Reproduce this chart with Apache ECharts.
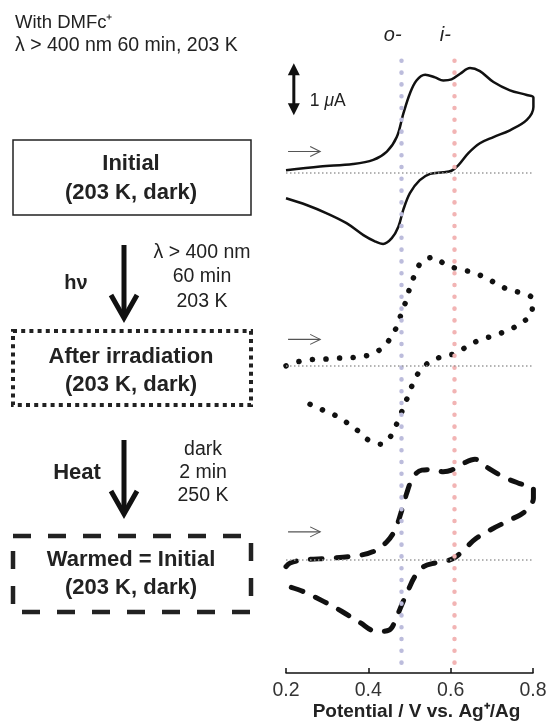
<!DOCTYPE html>
<html>
<head>
<meta charset="utf-8">
<script src="https://cdn.jsdelivr.net/npm/echarts@6/dist/echarts.min.js"></script>
<style>
	html, body { margin: 0; padding: 0; background: #fff; }
	#main { width: 548px; height: 722px; }
</style>
</head>
<body>
<div id="main"></div>
<script>
	// potential (V vs Ag+/Ag) and current (uA, relative to each baseline)
	const initialPotential = [0.200, 0.283, 0.363, 0.412, 0.445, 0.469, 0.485, 0.501, 0.517, 0.538, 0.562, 0.582, 0.602, 0.623, 0.647, 0.671, 0.704, 0.744, 0.785, 0.801,
		0.801, 0.785, 0.744, 0.704, 0.671, 0.643, 0.619, 0.602, 0.582, 0.550, 0.525, 0.501, 0.485, 0.473, 0.457, 0.436, 0.416, 0.388, 0.347, 0.299, 0.250, 0.200]
	const initialCurrent = [0.04, 0.11, 0.16, 0.24, 0.40, 0.68, 1.13, 1.52, 1.77, 1.88, 1.83, 1.77, 1.79, 1.90, 2.01, 1.95, 1.74, 1.58, 1.49, 1.44,
		1.26, 1.01, 0.81, 0.68, 0.56, 0.37, 0.14, 0.03, 0.00, -0.03, -0.15, -0.40, -0.72, -1.05, -1.27, -1.38, -1.33, -1.21, -0.98, -0.79, -0.63, -0.50]

	const irradPotential = [0.200, 0.230, 0.262, 0.297, 0.330, 0.363, 0.398, 0.428, 0.450, 0.467, 0.479, 0.491, 0.501, 0.513, 0.530, 0.558, 0.586, 0.617, 0.649, 0.679, 0.710, 0.740, 0.773, 0.799,
		0.797, 0.773, 0.740, 0.704, 0.671, 0.641, 0.612, 0.580, 0.550, 0.525, 0.509, 0.496, 0.483, 0.470, 0.455, 0.432, 0.402, 0.376, 0.347, 0.321, 0.289, 0.258, 0.228]
	const irradCurrent = [0.00, 0.08, 0.12, 0.13, 0.15, 0.16, 0.20, 0.31, 0.49, 0.72, 0.98, 1.24, 1.51, 1.76, 2.01, 2.09, 1.96, 1.87, 1.81, 1.72, 1.59, 1.47, 1.40, 1.29,
		1.03, 0.83, 0.69, 0.58, 0.50, 0.38, 0.24, 0.18, 0.08, -0.10, -0.33, -0.59, -0.85, -1.10, -1.35, -1.51, -1.44, -1.26, -1.09, -0.96, -0.85, -0.74, -0.65]

	const warmedPotential = [0.200, 0.210, 0.242, 0.303, 0.372, 0.412, 0.445, 0.465, 0.479, 0.493, 0.509, 0.530, 0.558, 0.582, 0.602, 0.631, 0.659, 0.687, 0.728, 0.768, 0.801,
		0.801, 0.780, 0.744, 0.704, 0.663, 0.631, 0.611, 0.586, 0.562, 0.534, 0.513, 0.497, 0.483, 0.469, 0.451, 0.420, 0.380, 0.335, 0.291, 0.242, 0.200]
	const warmedCurrent = [-0.13, -0.06, 0.00, 0.03, 0.08, 0.16, 0.35, 0.58, 0.90, 1.28, 1.60, 1.73, 1.74, 1.70, 1.73, 1.86, 1.94, 1.79, 1.60, 1.47, 1.38,
		1.19, 0.93, 0.77, 0.61, 0.42, 0.19, 0.05, -0.03, -0.06, -0.13, -0.32, -0.58, -0.83, -1.09, -1.35, -1.38, -1.21, -0.99, -0.80, -0.61, -0.50]

	const xTicks = [0.2, 0.4, 0.6, 0.8]
	const peakPotentials = [0.481, 0.609] // o-, i-
	const peakNames = ['o-', 'i-']

	// layout: vertical offset of each voltammogram (uA on the hidden axis)
	const offsets = [9.65, 5.92, 2.18]
	const arrowLevels = [0.40, 0.51, 0.54]
	const fontName = '"Liberation Sans", Arial, sans-serif'

	const pairs = (xs, ys, off) => xs.map((x, i) => [x, ys[i] + off])

	const baseLine = (off) => ({
		silent: true,
		symbol: 'none',
		label: { show: false },
		lineStyle: { color: '#9a9a9a', type: [1.5, 2.5], width: 1.5 },
		data: [{ yAxis: off }]
	})

	const myChart = echarts.init(document.getElementById('main'))

	const option = {
		animation: false,
		grid: { left: 286, right: 15, top: 40, bottom: 49, outerBoundsMode: 'none', containLabel: false },
		xAxis: {
			type: 'value',
			min: 0.2,
			max: 0.8,
			interval: 0.2,
			axisLine: { lineStyle: { color: '#111', width: 1.5 } },
			axisTick: { inside: true, length: 5, lineStyle: { color: '#111', width: 1.5 } },
			axisLabel: {
				fontSize: 19.5, color: '#333', fontFamily: fontName, margin: 8,
				formatter: v => xTicks.includes(+v.toFixed(1)) ? v.toFixed(1) : ''
			},
			splitLine: { show: false },
			name: 'Potential / V vs. Ag\u207A/Ag',
			nameLocation: 'middle',
			nameGap: 29,
			nameMoveOverlap: false,
			nameTextStyle: { fontWeight: 'bold', fontSize: 19, color: '#222', fontFamily: fontName, padding: [0, 0, 0, 14] }
		},
		yAxis: { type: 'value', min: 0, max: 12.2, show: false },
		series: [{
			name: 'guides',
			type: 'line',
			data: [],
			z: 1,
			markLine: {
				silent: true,
				symbol: 'none',
				label: { show: false },
				data: peakPotentials.map((p, i) => [
					{ coord: [p, 11.8], lineStyle: { color: i == 0 ? '#bcbcdc' : '#f2b4b4', width: 4.5, type: [0.1, 11.7], cap: 'round' } },
					{ coord: [p, 0] }
				])
			}
		}, {
			name: 'Initial',
			type: 'line',
			smooth: 0.35,
			symbol: 'none',
			clip: false,
			z: 3,
			lineStyle: { color: '#111', width: 2.5 },
			data: pairs(initialPotential, initialCurrent, offsets[0]),
			markLine: baseLine(offsets[0])
		}, {
			name: 'After irradiation',
			type: 'line',
			smooth: 0.35,
			symbol: 'none',
			clip: false,
			z: 3,
			lineStyle: { color: '#111', width: 5.5, type: [0.1, 13.5], cap: 'round' },
			data: pairs(irradPotential, irradCurrent, offsets[1]),
			markLine: baseLine(offsets[1])
		}, {
			name: 'Warmed',
			type: 'line',
			smooth: 0.35,
			symbol: 'none',
			clip: false,
			z: 3,
			lineStyle: { color: '#111', width: 5, type: [12, 14], cap: 'round' },
			data: pairs(warmedPotential, warmedCurrent, offsets[2]),
			markLine: baseLine(offsets[2])
		}]
	}

	myChart.setOption(option)

	const toPx = (e, v) => myChart.convertToPixel({ xAxisIndex: 0, yAxisIndex: 0 }, [e, v])

	const txt = (text, x, y, size, bold, extra) => ({
		type: 'text',
		z: 10,
		style: Object.assign({
			text: text, x: x, y: y,
			font: (bold ? 'bold ' : '') + size + 'px ' + fontName,
			fill: '#222',
			textAlign: 'center',
			textVerticalAlign: 'middle'
		}, extra || {})
	})

	const graphics = []

	// heading
	graphics.push(txt('With DMFc\u207A', 15, 23, 18.5, false, { textAlign: 'left' }))
	graphics.push(txt('\u03BB > 400 nm 60 min, 203 K', 15, 46, 19.5, false, { textAlign: 'left' }))

	// boxes
	graphics.push({ type: 'rect', shape: { x: 13, y: 140, width: 238, height: 75 }, style: { fill: 'none', stroke: '#222', lineWidth: 1.5 } })
	graphics.push({ type: 'rect', shape: { x: 13, y: 331, width: 238, height: 74 }, style: { fill: 'none', stroke: '#222', lineWidth: 4, lineDash: [4, 4.2] } })
	graphics.push({ type: 'rect', shape: { x: 13, y: 536, width: 238, height: 76 }, style: { fill: 'none', stroke: '#222', lineWidth: 4.5, lineDash: [18, 17] } })

	graphics.push(txt('Initial', 131, 164, 22, true))
	graphics.push(txt('(203 K, dark)', 131, 193, 22, true))
	graphics.push(txt('After irradiation', 131, 357, 22, true))
	graphics.push(txt('(203 K, dark)', 131, 385, 22, true))
	graphics.push(txt('Warmed = Initial', 131, 560, 22, true))
	graphics.push(txt('(203 K, dark)', 131, 588, 22, true))

	// process arrows
	const bigArrow = (y0, y1) => {
		graphics.push({ type: 'line', shape: { x1: 124, y1: y0, x2: 124, y2: y1 - 3 }, style: { stroke: '#111', lineWidth: 5 } })
		graphics.push({ type: 'polyline', shape: { points: [[111, y1 - 23], [124, y1], [137, y1 - 23]] }, style: { stroke: '#111', lineWidth: 5, fill: 'none', lineJoin: 'miter' } })
	}
	bigArrow(245, 318)
	bigArrow(440, 514)

	graphics.push(txt('h\u03BD', 76, 283, 20, true))
	graphics.push(txt('\u03BB > 400 nm', 202, 253, 19.5, false))
	graphics.push(txt('60 min', 202, 277, 19.5, false))
	graphics.push(txt('203 K', 202, 302, 19.5, false))
	graphics.push(txt('Heat', 77, 473, 22, true))
	graphics.push(txt('dark', 203, 450, 19.5, false))
	graphics.push(txt('2 min', 203, 473, 19.5, false))
	graphics.push(txt('250 K', 203, 496, 19.5, false))

	// o- / i- labels
	peakPotentials.forEach((p, i) => {
		const pt = toPx(p, 0)
		graphics.push(txt(peakNames[i], pt[0] - 9, 35, 20, false, { font: 'italic 20px ' + fontName }))
	})

	// forward scan arrows
	offsets.forEach((off, i) => {
		const a = toPx(0.205, off + arrowLevels[i])
		const b = toPx(0.283, off + arrowLevels[i])
		graphics.push({ type: 'line', shape: { x1: a[0], y1: a[1], x2: b[0], y2: b[1] }, style: { stroke: '#555', lineWidth: 1.1 } })
		graphics.push({ type: 'polyline', shape: { points: [[b[0] - 10, b[1] - 5], [b[0], b[1]], [b[0] - 10, b[1] + 5]] }, style: { stroke: '#555', lineWidth: 1.1, fill: 'none' } })
	})

	// 1 uA scale bar
	const sTop = toPx(0.219, offsets[0] + 2.1)
	const sBot = toPx(0.219, offsets[0] + 1.1)
	graphics.push({ type: 'line', shape: { x1: sTop[0], y1: sTop[1] + 6, x2: sBot[0], y2: sBot[1] - 6 }, style: { stroke: '#111', lineWidth: 3 } })
	graphics.push({ type: 'polygon', shape: { points: [[sTop[0], sTop[1]], [sTop[0] - 6, sTop[1] + 12], [sTop[0] + 6, sTop[1] + 12]] }, style: { fill: '#111' } })
	graphics.push({ type: 'polygon', shape: { points: [[sBot[0], sBot[1]], [sBot[0] - 6, sBot[1] - 12], [sBot[0] + 6, sBot[1] - 12]] }, style: { fill: '#111' } })
	graphics.push({
		type: 'text', z: 10,
		style: {
			text: '1 {m|\u03BC}A', x: sTop[0] + 16, y: 101,
			font: '17.5px ' + fontName, fill: '#222', textVerticalAlign: 'middle',
			rich: { m: { fontStyle: 'italic', fontSize: 17.5, fontFamily: fontName, fill: '#222' } }
		}
	})

	myChart.setOption({ graphic: graphics })
</script>
</body>
</html>
